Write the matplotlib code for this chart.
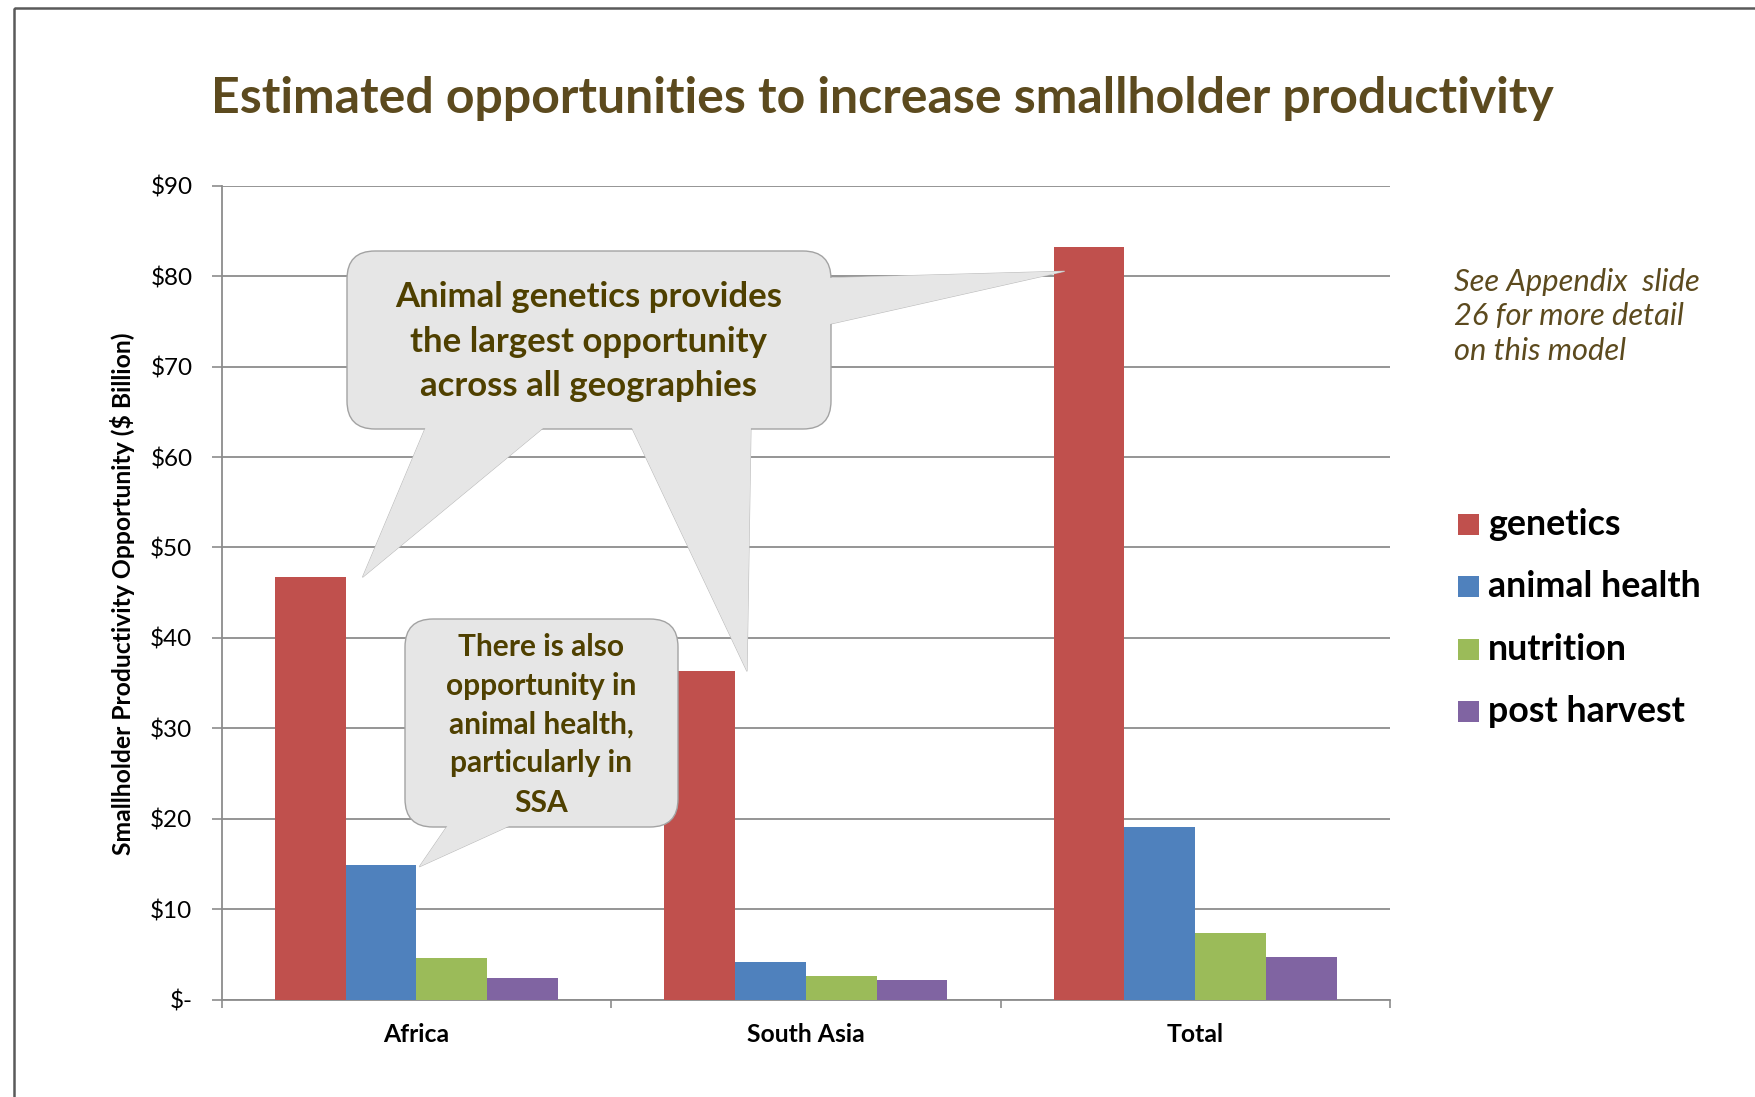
import matplotlib.pyplot as plt
import numpy as np
from matplotlib.patches import FancyBboxPatch, Polygon, Rectangle

regions = ["Africa", "South Asia", "Total"]
series = ["genetics", "animal health", "nutrition", "post harvest"]
genetics = [46.7, 36.3, 83.2]
animal_health = [14.9, 4.1, 19.1]
nutrition = [4.6, 2.6, 7.4]
post_harvest = [2.4, 2.2, 4.7]
colors = ["#C0504D", "#4F81BD", "#9BBB59", "#8064A2"]
yticks = list(range(0, 91, 10))

title = "Estimated opportunities to increase smallholder productivity"
ylabel = "Smallholder Productivity Opportunity ($ Billion)"
note = ["See Appendix  slide", "26 for more detail", "on this model"]
callout_big = ["Animal genetics provides", "the largest opportunity", "across all geographies"]
callout_small = ["There is also", "opportunity in", "animal health,", "particularly in", "SSA"]

W, H = 1755, 1097
brown = "#5c4a1e"
olive = "#4f4000"
grid = "#8c8c8c"

plt.rcParams["font.family"] = ["Lato", "DejaVu Sans"]

fig = plt.figure(figsize=(W / 100, H / 100), dpi=100)
fig.patch.set_facecolor("white")
ax = fig.add_axes([221.6 / W, 1 - 999.5 / H, (1390 - 221.6) / W, (999.5 - 185.8) / H])

values = [genetics, animal_health, nutrition, post_harvest]
x = np.arange(len(regions))
bw = 1 / (len(series) + 1.5)
for i, (name, vals, c) in enumerate(zip(series, values, colors)):
    ax.bar(x + (i - 1.5) * bw, vals, bw, color=c, label=name, zorder=3)

ax.set_xlim(-0.5, len(regions) - 0.5)
ax.set_ylim(0, 90)
ax.set_yticks(yticks)
ax.set_yticklabels(["$-" if v == 0 else f"${v}" for v in yticks], fontsize=17.5)
ax.set_xticks(np.arange(-0.5, len(regions), 1.0))
ax.set_xticklabels([])
ax.set_xticks(x, minor=True)
ax.set_xticklabels(regions, minor=True, fontsize=17.8, fontweight="bold")
ax.tick_params(axis="x", which="minor", length=0, pad=17)
ax.tick_params(axis="x", which="major", length=6, width=1.2, color=grid)
ax.tick_params(axis="y", length=7, width=1.2, color=grid, pad=14)
ax.yaxis.grid(True, color=grid, lw=1.3)
ax.set_axisbelow(True)
for s in ["top", "right"]:
    ax.spines[s].set_visible(False)
for s in ["left", "bottom"]:
    ax.spines[s].set_color(grid)
    ax.spines[s].set_linewidth(1.3)

# overlay in pixel units (origin top-left) for annotations
ov = fig.add_axes([0, 0, 1, 1], zorder=5)
ov.set_xlim(0, W)
ov.set_ylim(H, 0)
ov.axis("off")
ov.patch.set_alpha(0)

renderer = fig.canvas.get_renderer()


def fit(texts, target):
    widest = max(t.get_window_extent(renderer).width for t in texts)
    for t in texts:
        t.set_fontsize(t.get_fontsize() * target / widest)


def px(xd, yd):
    dx, dy = ax.transData.transform((xd, yd))
    return dx, H - dy


def callout(box, tails, face="#e6e6e6", edge="#a3a3a3"):
    x0, y0, x1, y1 = box
    for t in tails:
        ov.add_patch(Polygon(t, closed=True, fc=face, ec="#bdbdbd", lw=0.8, zorder=1))
    ov.add_patch(FancyBboxPatch((x0, y0), x1 - x0, y1 - y0,
                                boxstyle="round,pad=0,rounding_size=28",
                                fc=face, ec=edge, lw=1.0, zorder=2))
    for t in tails:
        ov.add_patch(Polygon(t, closed=True, fc=face, ec="none", zorder=3))


# frame around the slide
ov.add_patch(Rectangle((14, 8), W, H, fill=False, ec="#5a5a5a", lw=1.8))

# big callout: tails to the genetics bars
ag = px(-1.5 * bw + bw / 2, genetics[0])
sg = px(1 - 1.5 * bw + bw / 2, genetics[1])
tg = px(2 - 2 * bw, genetics[2])
callout((347, 251, 831, 429), [
    [(427, 424), (ag[0] + 17, ag[1]), (548, 424)],
    [(630, 424), (sg[0] + 12, sg[1]), (751, 424)],
    [(826, 278), (tg[0] + 11, tg[1] + 24), (826, 325)],
])
big = [ov.text(589, yb, s, ha="center", va="baseline", fontsize=22,
               fontweight="bold", color=olive, zorder=4)
       for s, yb in zip(callout_big, [307, 351.5, 396.5])]
fit(big, 387)

# small callout: tail to Africa animal health bar
ah = px(-0.5 * bw + bw / 2, animal_health[0])
callout((405, 619, 678, 827), [
    [(450, 822), (ah[0] + 3, ah[1] + 2), (518, 822)],
])
small = [ov.text(541.5, yb, s, ha="center", va="baseline", fontsize=18,
                 fontweight="bold", color=olive, zorder=4)
         for s, yb in zip(callout_small, [656, 695, 733.5, 772, 811.5])]
fit(small, 191)

t = ov.text(211, 113, title, ha="left", va="baseline", fontsize=32,
            fontweight="bold", color=brown)
fit([t], 1345)

yl = ov.text(123, 594, ylabel, rotation=90, ha="center", va="center",
             fontsize=15, fontweight="bold", color="black")
h = yl.get_window_extent(renderer).height
yl.set_fontsize(yl.get_fontsize() * 528 / h)

notes = [ov.text(1454, yb, s, ha="left", va="baseline", fontsize=18,
                 style="italic", color=brown)
         for s, yb in zip(note, [291.5, 325.5, 359.5])]
fit(notes, 246)

# legend
leg = []
for i, (name, c) in enumerate(zip(series, colors)):
    yb = 535 + i * 62.3
    ov.add_patch(Rectangle((1458, yb - 21), 21, 21, fc=c, ec="none"))
    leg.append(ov.text(1488, yb, name, ha="left", va="baseline", fontsize=22,
                       fontweight="bold", color="black"))
fit(leg, 212)

fig.savefig("out.png", dpi=100)
